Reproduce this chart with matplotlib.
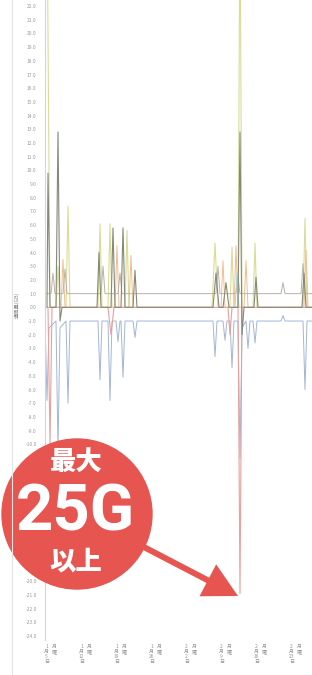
import matplotlib
matplotlib.use("Agg")
import matplotlib.pyplot as plt
from matplotlib.patches import Circle, FancyArrow

plt.rcParams['font.family'] = ['Noto Sans CJK JP', 'DejaVu Sans']

# each series: time in days
yellow_t = [-0.2, 0.4, 1.6, 2.0, 2.4, 3.6, 4.0, 4.4, 10.0, 10.4, 10.8, 12.0, 12.4, 12.8,
            15.4, 15.8, 16.2, 32.8, 33.4, 34.0, 36.4, 36.8, 37.2, 38.0, 38.4, 38.8,
            41.0, 41.4, 41.8, 51.0, 51.4, 51.8, 52.8]
yellow_v = [30, 0, 0, 3, 0, 0, 7.4, 0, 0, 6.1, 0, 0, 6.1, 0,
            0, 5.6, 0, 0, 4.7, 0, 0, 4.4, 0, 0, 30, 0,
            0, 4.7, 0, 0, 6.5, 0, 0]

olive_t = [-0.2, 0.0, 0.4, 1.6, 2.0, 2.4, 2.8, 9.8, 10.2, 10.6, 12.6, 13.0, 13.4,
           14.6, 15.0, 15.4, 17.0, 17.4, 17.8, 33.0, 33.6, 34.2, 35.0, 35.6, 36.2,
           38.0, 38.4, 38.8, 39.2, 41.2, 41.6, 42.0, 50.8, 51.2, 51.6, 52.8]
olive_v = [0, 9.8, 0, 0, 12.8, -1, 0, 0, 4, 0, 0, 5.8, 0,
           0, 5.8, 0, 0, 2.7, 0, 0, 2.5, 0, 0, 1.8, 0,
           0, 12.8, -2, 0, 0, 2.2, 0, 0, 2.5, 0, 0]

blue_t = [-0.6, -0.2, 0.2, 1.6, 2.0, 2.4, 3.6, 4.0, 4.4, 10.0, 10.4, 10.8,
          12.0, 12.4, 12.8, 13.6, 14.0, 14.4, 14.6, 15.0, 15.4, 17.0, 17.4, 17.8,
          33.0, 33.4, 33.8, 35.0, 35.4, 35.8, 36.4, 36.8, 37.2, 38.0, 38.4, 38.8,
          39.6, 40.0, 40.4, 41.0, 41.4, 41.8, 46.6, 47.0, 47.4, 51.0, 51.4, 51.8, 52.8]
blue_v = [-1, -6.8, -1.5, -1, -10.4, -1.5, -1, -7, -1, -1, -5.3, -1,
          -1, -6.8, -1, -1, -2.5, -1, -1, -5.1, -1, -1, -2.2, -1,
          -1, -3.6, -1, -1, -2.4, -1, -1, -4.4, -1, -1, -11, -1.5,
          -1, -3, -1, -1, -2.6, -1, -1, -0.6, -1, -1, -6, -1, -1]

pink_t = [0.0, 0.4, 0.8, 12.0, 12.6, 13.2, 36.0, 36.4, 36.8, 38.0, 38.4, 38.8, 52.8]
pink_v = [0, -10, 0, 0, -2, 0, 0, -2, 0, 0, -20.9, 0, 0]

orange_t = [-0.6, 2.6, 3.0, 3.4, 13.4, 13.8, 14.2, 16.2, 16.6, 17.0, 34.6, 35.0, 35.4,
            37.2, 37.6, 38.0, 39.2, 39.6, 40.0, 51.2, 51.6, 52.0, 52.8]
orange_v = [0, 0, 3.5, 0, 0, 4.5, 0, 0, 3.8, 0, 0, 3.4, 0,
            0, 4.5, 0, 0, 3.4, 0, 0, 4.2, 0, 0]

tan_t = [-0.6, 0.6, 1.0, 1.4, 3.0, 3.4, 3.8, 10.6, 11.0, 11.4, 14.0, 14.4, 14.8,
         33.6, 34.0, 34.4, 37.6, 38.0, 38.4, 46.6, 47.0, 47.4, 50.6, 51.0, 51.4, 52.8]
tan_v = [1, 1, 2.5, 1, 1, 2.8, 1, 1, 3, 1, 1, 2.5, 1,
         1, 3, 1, 1, 2.2, 1, 1, 1.8, 1, 1, 3.2, 1, 1]

cyan_t = [37.4, 37.8, 38.2]
cyan_v = [0, 2.5, 0]

tick_days = [0, 7, 14, 21, 28, 35, 42, 49]
tick_dates = ["1\n月\n5\n日", "1\n月\n12\n日", "1\n月\n19\n日", "1\n月\n26\n日",
              "2\n月\n2\n日", "2\n月\n9\n日", "2\n月\n16\n日", "2\n月\n23\n日"]
y_ticks = list(range(-24, 23))

fig = plt.figure(figsize=(3.12, 6.75), dpi=100)
ax = fig.add_axes([45 / 312, 35 / 675, 267 / 312, 640 / 675])

ax.plot(yellow_t, yellow_v, color="#d9dd96", lw=0.8)
ax.plot(orange_t, orange_v, color="#f2bd92", lw=0.7)
ax.plot(tan_t, tan_v, color="#b9b1a9", lw=0.7)
ax.plot(cyan_t, cyan_v, color="#a6d6d8", lw=0.7)
ax.plot(blue_t, blue_v, color="#a3b5d9", lw=0.7)
ax.plot(pink_t, pink_v, color="#e8a19c", lw=0.8)
ax.plot(olive_t, olive_v, color="#858a78", lw=0.8)

ax.set_xlim(-0.6, 52.8)
ax.set_ylim(-24.29, 22.44)
ax.set_yticks(y_ticks)
# labels from -11 to -19 sit under the badge
ax.set_yticklabels(["" if -20 < v < -10 else f"{v:.1f}" for v in y_ticks])
ax.tick_params(axis="y", length=0, pad=6, labelsize=3.5, labelcolor="#9a9a9a")
ax.set_xticks([])
for s in ["top", "right", "bottom"]:
    ax.spines[s].set_visible(False)
ax.spines["left"].set_color("#d5d5d5")
ax.spines["left"].set_linewidth(0.8)

# vertical date labels under the axis
trans = ax.get_xaxis_transform()
for d, lab in zip(tick_days, tick_dates):
    ax.text(d - 0.3, -0.006, lab, transform=trans, ha="center", va="top",
            fontsize=3.6, color="#999999", linespacing=1.0)
    ax.text(d + 1.2, -0.006, "月\n曜", transform=trans, ha="center", va="top",
            fontsize=3.6, color="#999999", linespacing=1.0)

fig.text(17 / 312, 1 - 305 / 675, "通信量(GB)", rotation=90, ha="center",
         va="center", fontsize=3.8, color="#888888")

# overlay in pixel units for the badge
ov = fig.add_axes([0, 0, 1, 1], facecolor="none")
ov.set_xlim(0, 312)
ov.set_ylim(675, 0)
ov.axis("off")
ov.plot([12, 12], [0, 675], color="#e2e2e2", lw=0.8)
red = "#e65550"
ov.add_patch(Circle((77, 514), 75, color=red))
ov.add_patch(FancyArrow(140, 545, 98, 51, width=6, head_width=36,
                        head_length=34, length_includes_head=True, color=red, lw=0))
ov.text(76, 462, "最大", ha="center", va="center", color="white",
        fontsize=19, fontweight="heavy")
ov.text(75, 513, "25G", ha="center", va="center", color="white",
        fontsize=47, fontweight="bold", family=["Roboto", "DejaVu Sans"])
ov.text(76, 561, "以上", ha="center", va="center", color="white",
        fontsize=19, fontweight="heavy")

fig.savefig("out.png", dpi=100)
